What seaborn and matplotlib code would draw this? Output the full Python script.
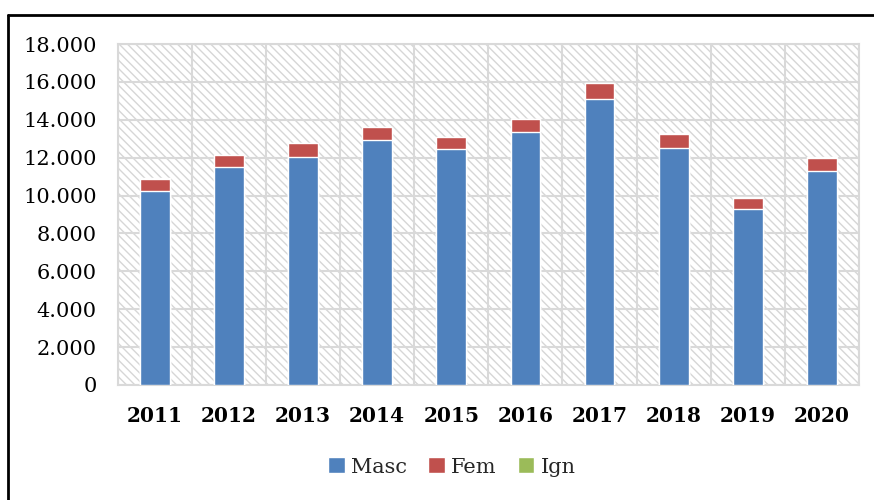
import matplotlib
matplotlib.use("Agg")
import matplotlib.pyplot as plt
import seaborn as sns
import pandas as pd
import numpy as np
from matplotlib.patches import Rectangle, Patch
from matplotlib.lines import Line2D
from matplotlib.ticker import FuncFormatter

years = ["2011", "2012", "2013", "2014", "2015", "2016", "2017", "2018", "2019", "2020"]
masc = [10240, 11490, 12020, 12910, 12470, 13370, 15110, 12530, 9310, 11310]
fem = [660, 630, 740, 690, 600, 650, 820, 720, 550, 690]
ign = [40, 30, 30, 30, 30, 30, 30, 30, 40, 30]

c_masc = "#4F81BD"
c_fem = "#C0504D"
c_ign = "#9BBB59"

df = pd.DataFrame({"year": years, "Masc": masc, "Fem": fem, "Ign": ign})
df["mf"] = df["Masc"] + df["Fem"]
df["total"] = df["mf"] + df["Ign"]

sns.set_theme(style="white")
plt.rcParams["font.family"] = ["DejaVu Serif"]
plt.rcParams["hatch.color"] = "#d6d6d6"
plt.rcParams["hatch.linewidth"] = 1.0

fig = plt.figure(figsize=(8.74, 5.0), dpi=100)
ax = fig.add_axes([117.7 / 874, 1 - 385 / 500, (859 - 117.7) / 874, (385 - 44) / 500])

# hatched background
bg = Rectangle((0, 0), 1, 1, transform=ax.transAxes, facecolor="white",
               edgecolor="#d6d6d6", hatch="\\\\\\\\", linewidth=0, zorder=0)
ax.add_patch(bg)
ax.set_facecolor("white")

bw = 0.4
sns.barplot(data=df, x="year", y="total", color=c_ign, width=bw, ax=ax,
            saturation=1, zorder=3, errorbar=None)
sns.barplot(data=df, x="year", y="mf", color=c_fem, width=bw, ax=ax,
            saturation=1, zorder=4, errorbar=None)
sns.barplot(data=df, x="year", y="Masc", color=c_masc, width=bw, ax=ax,
            saturation=1, zorder=5, errorbar=None)

ax.set_ylim(0, 18000)
ax.set_xlim(-0.5, 9.5)
ax.set_yticks(np.arange(0, 18001, 2000))
ax.yaxis.set_major_formatter(FuncFormatter(lambda v, _: "0" if v == 0 else f"{int(v):,}".replace(",", ".")))
ax.set_xticks(np.arange(-0.5, 10, 1), minor=True)
ax.set_xticks(np.arange(10))
ax.set_xticklabels(years, fontweight="bold", fontsize=14.5)
ax.grid(False)
ax.grid(True, which="major", axis="y", color="#d9d9d9", linewidth=1.5, zorder=1)
ax.grid(True, which="minor", axis="x", color="#d9d9d9", linewidth=1.5, zorder=1)
ax.set_axisbelow(True)
ax.tick_params(axis="y", labelsize=15, length=0, pad=15, colors="black")
ax.tick_params(axis="x", which="both", length=0, pad=15, colors="black")
ax.set_xlabel("")
ax.set_ylabel("")
for s in ax.spines.values():
    s.set_color("#d9d9d9")
    s.set_linewidth(1.5)

handles = [Patch(facecolor=c_masc, label="Masc"),
           Patch(facecolor=c_fem, label="Fem"),
           Patch(facecolor=c_ign, label="Ign")]
fig.legend(handles=handles, loc="center", bbox_to_anchor=(452 / 874, 1 - 467 / 500),
           ncol=3, frameon=False, fontsize=15, handlelength=0.8, handleheight=0.8,
           handletextpad=0.3, columnspacing=1.0)

# outer frame (left and top)
fig.add_artist(Line2D([7.5 / 874, 7.5 / 874], [0, 1 - 15 / 500], transform=fig.transFigure,
                      color="black", linewidth=2))
fig.add_artist(Line2D([7.5 / 874, 874 / 874], [1 - 15 / 500, 1 - 15 / 500], transform=fig.transFigure,
                      color="black", linewidth=2))

fig.savefig("out.png", dpi=100)
